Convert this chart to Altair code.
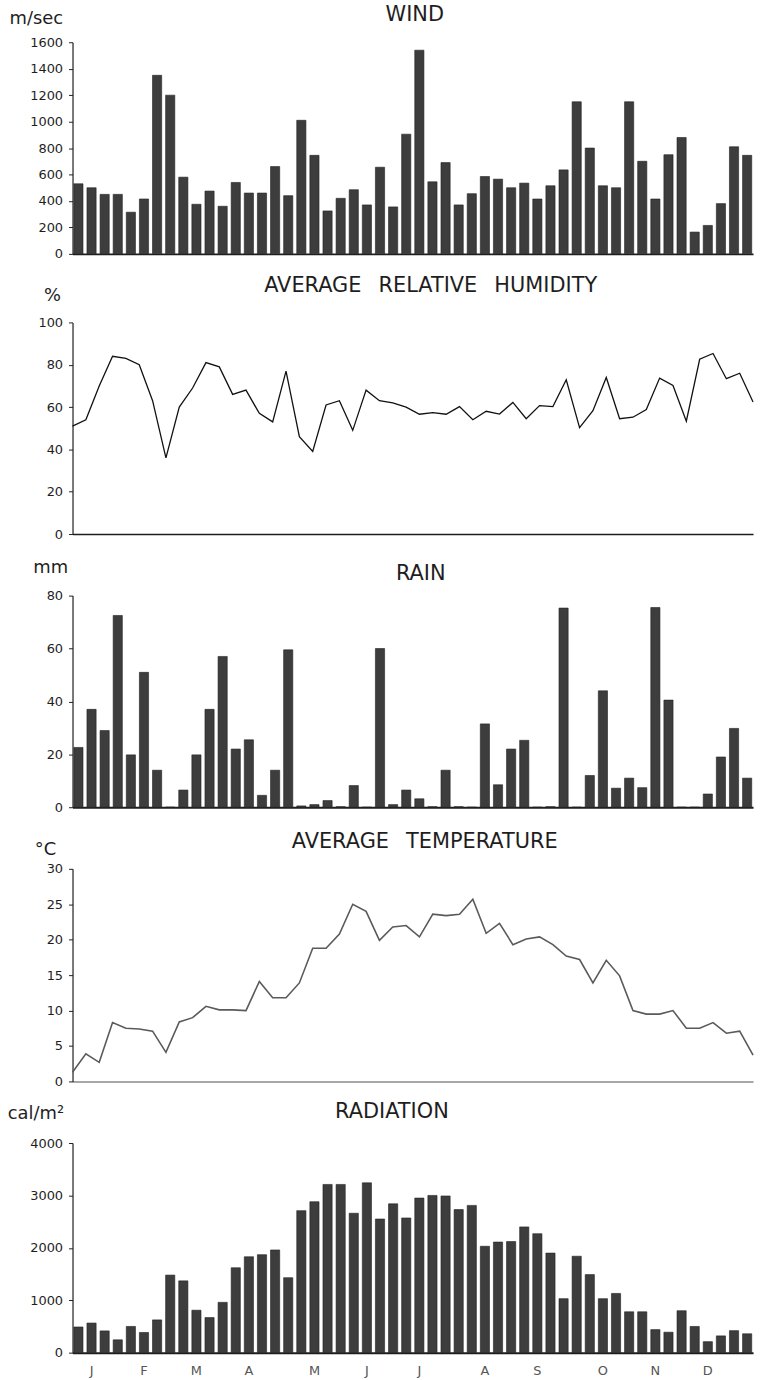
import altair as alt
import pandas as pd

# ---- data (weekly values, 52 weeks) ----
weeks = list(range(52))

wind = [530, 500, 450, 450, 315, 415, 1350, 1200, 580, 375, 475, 360, 540, 460, 460, 660,
        440, 1010, 745, 325, 420, 485, 370, 655, 355, 905, 1540, 545, 690, 370, 455, 585,
        565, 500, 535, 415, 515, 635, 1150, 800, 515, 500, 1150, 700, 415, 750, 880, 165,
        215, 380, 810, 745]

humidity = [51, 54, 70, 84, 83, 80, 63, 36, 60, 69, 81, 79, 66, 68, 57, 53, 77, 46, 39, 61,
            63, 49, 68, 63, 62, 60, 56.6, 57.4, 56.6, 60.2, 54, 58, 56.7, 62.2, 54.5, 60.7,
            60.2, 72.9, 50.3, 58.3, 74, 54.5, 55.2, 58.8, 73.7, 70.2, 53.3, 82.6, 85.3, 73.4,
            76, 62.4]

rain = [22.6, 37, 29, 72.5, 19.8, 51, 14, 0, 6.5, 19.8, 37, 57, 22, 25.5, 4.5, 14, 59.5,
        0.5, 1, 2.5, 0.2, 8.2, 0, 60, 1, 6.5, 3.2, 0.2, 14, 0.2, 0, 31.5, 8.5, 22, 25.3, 0,
        0.2, 75.3, 0, 12, 44, 7.2, 11, 7.4, 75.5, 40.5, 0, 0, 5, 19, 29.8, 11]

temperature = [1.3, 3.9, 2.7, 8.3, 7.5, 7.4, 7.1, 4.1, 8.4, 9.0, 10.6, 10.1, 10.1, 10.0, 14.1,
               11.8, 11.8, 13.9, 18.8, 18.8, 20.8, 25.0, 24.0, 19.9, 21.8, 22.0, 20.4, 23.6,
               23.4, 23.6, 25.7, 20.9, 22.3, 19.3, 20.1, 20.4, 19.3, 17.7, 17.2, 13.9, 17.1,
               14.9, 10.0, 9.5, 9.5, 10.0, 7.5, 7.5, 8.3, 6.8, 7.1, 3.7]

radiation = [490, 565, 415, 245, 500, 385, 625, 1480, 1370, 810, 670, 960, 1620, 1830, 1870,
             1960, 1430, 2710, 2880, 3210, 3210, 2660, 3240, 2550, 2840, 2570, 2950, 3000,
             2990, 2730, 2810, 2030, 2110, 2120, 2400, 2270, 1900, 1030, 1840, 1490, 1030,
             1130, 780, 780, 440, 390, 800, 500, 210, 320, 420, 360]

month_letters = ["J", "F", "M", "A", "M", "J", "J", "A", "S", "O", "N", "D"]
month_weeks = [1, 5, 9, 13, 18, 22, 26, 31, 35, 40, 44, 48]

wind_ticks = [0, 200, 400, 600, 800, 1000, 1200, 1400, 1600]
hum_ticks = [0, 20, 40, 60, 80, 100]
rain_ticks = [0, 20, 40, 60, 80]
temp_ticks = [0, 5, 10, 15, 20, 25, 30]
rad_ticks = [0, 1000, 2000, 3000, 4000]

FONT = "DejaVu Sans"
W = 685
INK = "#1e1e1e"
GAP = "\u2002 "


def yaxis(ticks, unit, tx, ty):
    return alt.Axis(values=ticks, format="d", grid=False, domainColor=INK, domainWidth=1.2,
                    tickColor=INK, tickSize=4, labelFont=FONT, labelFontSize=13,
                    labelColor=INK, labelPadding=6, title=unit, titleAngle=0,
                    titleX=tx, titleY=ty, titleAlign="right", titleBaseline="middle",
                    titleFont=FONT, titleFontSize=18, titleFontWeight="normal",
                    titleColor=INK)


def ttl(text, dy, dx):
    return alt.TitleParams(text=text, font=FONT, fontSize=21, fontWeight="normal",
                           color=INK, anchor="middle", offset=0, dx=dx, dy=dy)


def bar_panel(values, ticks, unit, tx, ty, title, tdy, tdx, h, xaxis):
    df = pd.DataFrame({"week": weeks, "v": values})
    return alt.Chart(df).mark_bar(color="#3d3d3d", stroke="#222222", strokeWidth=0.6).encode(
        x=alt.X("week:O", scale=alt.Scale(paddingInner=0.3, paddingOuter=0.1), axis=xaxis),
        y=alt.Y("v:Q", scale=alt.Scale(domain=[ticks[0], ticks[-1]], nice=False),
                axis=yaxis(ticks, unit, tx, ty)),
    ).properties(width=W, height=h, title=ttl(title, tdy, tdx))


def line_panel(values, ticks, unit, tx, ty, title, tdy, tdx, h, color, sw, dcolor):
    df = pd.DataFrame({"week": weeks, "v": values})
    return alt.Chart(df).mark_line(color=color, strokeWidth=sw).encode(
        x=alt.X("week:Q", scale=alt.Scale(domain=[0, 51], nice=False),
                axis=alt.Axis(labels=False, ticks=False, grid=False, domainColor=dcolor,
                              domainWidth=1.6, title=None)),
        y=alt.Y("v:Q", scale=alt.Scale(domain=[ticks[0], ticks[-1]], nice=False),
                axis=yaxis(ticks, unit, tx, ty)),
    ).properties(width=W, height=h, title=ttl(title, tdy, tdx))


plain_x = alt.Axis(labels=False, ticks=False, grid=False, domainColor=INK, domainWidth=2,
                   title=None)

label_expr = ("indexof(%s, datum.value) >= 0 ? %s[indexof(%s, datum.value)] : ''"
              % (str(month_weeks), str(month_letters), str(month_weeks)))
month_x = alt.Axis(values=month_weeks, labelExpr=label_expr, ticks=False, grid=False,
                   domainColor=INK, domainWidth=2, labelAngle=0, labelFont=FONT,
                   labelFontSize=13, labelColor="#555555", labelPadding=12, title=None)

p_wind = bar_panel(wind, wind_ticks, "m/sec", -10, -24, "WIND", 15.5, 2, 213, plain_x)
p_hum = line_panel(humidity, hum_ticks, "%", -12, -27,
                   "AVERAGE" + GAP + "RELATIVE" + GAP + "HUMIDITY",
                   9.5, 18, 213, "#111111", 1.3, INK)
p_rain = bar_panel(rain, rain_ticks, "mm", -5, -28, "RAIN", 25.5, 8, 213, plain_x)
p_temp = line_panel(temperature, temp_ticks, "°C", -17, -19,
                    "AVERAGE" + GAP + "TEMPERATURE",
                    11, 12, 214, "#5a5a5a", 1.6, "#8a8a8a")
p_rad = bar_panel(radiation, rad_ticks, "cal/m²", -9, -30, "RADIATION", 17.5, -21, 211, month_x)

lower = alt.vconcat(p_hum, p_rain, p_temp, p_rad, spacing=62, bounds="flush")

chart = alt.vconcat(p_wind, lower, spacing=14).properties(
    padding={"left": 7, "top": -1, "right": 4, "bottom": 0},
    background="white",
).configure_view(stroke=None)

chart.save("out.html", embed_options={"renderer": "svg", "actions": False})
